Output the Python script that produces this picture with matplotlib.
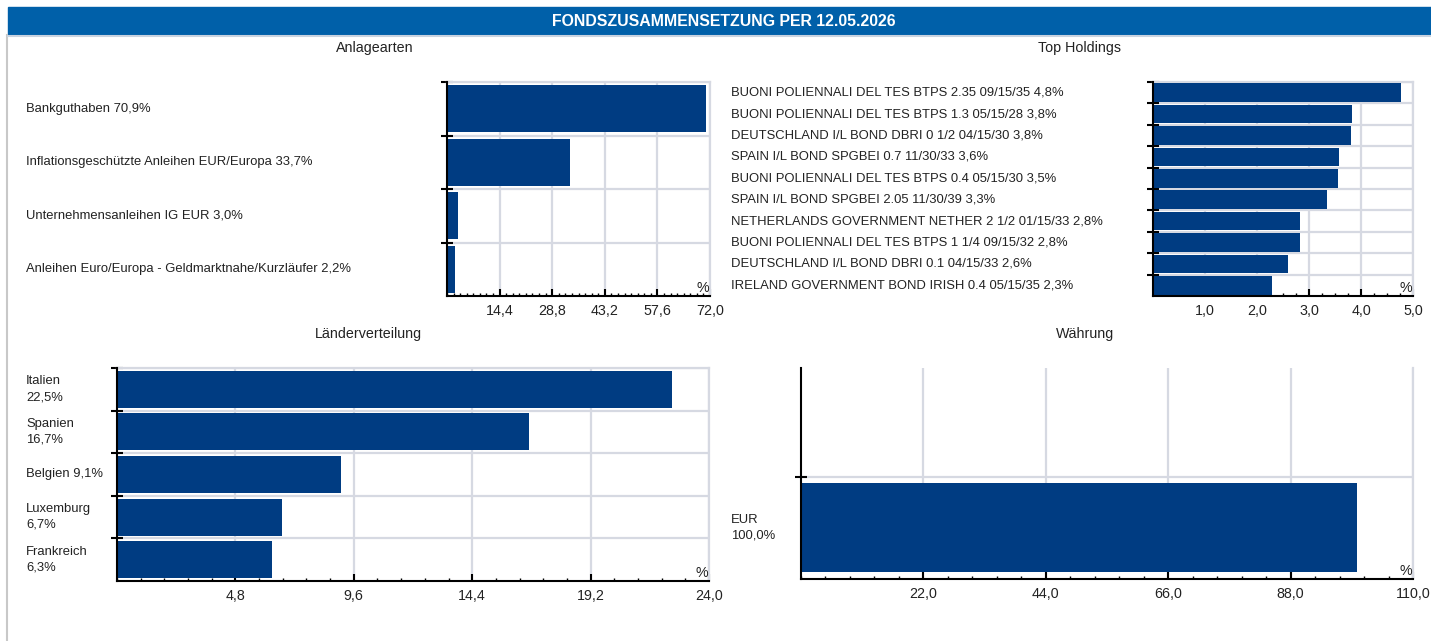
import matplotlib
matplotlib.use('Agg')
import numpy as np
import matplotlib.pyplot as plt
from matplotlib.ticker import FixedLocator, MultipleLocator, FuncFormatter
from matplotlib.transforms import blended_transform_factory
from matplotlib.patches import Rectangle
from matplotlib.lines import Line2D

plt.rcParams['font.family'] = ['Liberation Sans', 'DejaVu Sans']

HEADER = 'FONDSZUSAMMENSETZUNG PER 12.05.2026'

# Anlagearten
asset_labels = ['Bankguthaben 70,9%',
                'Inflationsgeschützte Anleihen EUR/Europa 33,7%',
                'Unternehmensanleihen IG EUR 3,0%',
                'Anleihen Euro/Europa - Geldmarktnahe/Kurzläufer 2,2%']
asset_values = [70.9, 33.7, 3.0, 2.2]
asset_ticks = [14.4, 28.8, 43.2, 57.6, 72.0]

# Top Holdings
hold_labels = ['BUONI POLIENNALI DEL TES BTPS 2.35 09/15/35 4,8%',
               'BUONI POLIENNALI DEL TES BTPS 1.3 05/15/28 3,8%',
               'DEUTSCHLAND I/L BOND DBRI 0 1/2 04/15/30 3,8%',
               'SPAIN I/L BOND SPGBEI 0.7 11/30/33 3,6%',
               'BUONI POLIENNALI DEL TES BTPS 0.4 05/15/30 3,5%',
               'SPAIN I/L BOND SPGBEI 2.05 11/30/39 3,3%',
               'NETHERLANDS GOVERNMENT NETHER 2 1/2 01/15/33 2,8%',
               'BUONI POLIENNALI DEL TES BTPS 1 1/4 09/15/32 2,8%',
               'DEUTSCHLAND I/L BOND DBRI 0.1 04/15/33 2,6%',
               'IRELAND GOVERNMENT BOND IRISH 0.4 05/15/35 2,3%']
hold_values = [4.76, 3.82, 3.81, 3.58, 3.56, 3.35, 2.83, 2.82, 2.59, 2.28]
hold_ticks = [1.0, 2.0, 3.0, 4.0, 5.0]

# Länderverteilung
country_labels = ['Italien\n22,5%', 'Spanien\n16,7%', 'Belgien 9,1%',
                  'Luxemburg\n6,7%', 'Frankreich\n6,3%']
country_values = [22.5, 16.7, 9.1, 6.7, 6.3]
country_ticks = [4.8, 9.6, 14.4, 19.2, 24.0]

# Währung
currency_labels = ['EUR\n100,0%']
currency_values = [100.0]
currency_ticks = [22.0, 44.0, 66.0, 88.0, 110.0]

W, H = 1431, 641
BAR = '#003c82'
GRID = '#d6d9e2'
TXT = '#222222'
FS = 9.4
FS_TICK = 10.3

fig = plt.figure(figsize=(W / 100, H / 100), dpi=100)
fig.patch.set_facecolor('white')


def px_rect(x0, y0, x1, y1):
    return [x0 / W, 1 - y1 / H, (x1 - x0) / W, (y1 - y0) / H]


# frame + header
fig.add_artist(Line2D([7 / W, 7 / W], [0, 1 - 35 / H], color='#c8c8c8', lw=1.5,
                      transform=fig.transFigure))
fig.add_artist(Rectangle((8 / W, 1 - 35 / H), 1, 28 / H, color='#0060a9',
                         transform=fig.transFigure))
fig.add_artist(Line2D([8 / W, 1], [1 - 36 / H, 1 - 36 / H], color='#c9d3e0', lw=1.5,
                      transform=fig.transFigure))
fig.text(724 / W, 1 - 21 / H, HEADER, color='white', fontsize=11.4, fontweight='bold',
         ha='center', va='center')


def fmt(v, pos):
    return ('%.1f' % v).replace('.', ',')


def panel(rect, title, title_xy, labels, values, ticks, minor, label_x,
          extra_top=0.0):
    ax = fig.add_axes(px_rect(*rect))
    n = len(values)
    pos = np.arange(n) + 0.5
    ax.barh(pos, values, height=0.87, color=BAR, zorder=3)
    ax.set_xlim(0, ticks[-1])
    ax.set_ylim(n, -extra_top)
    ax.xaxis.set_major_locator(FixedLocator(ticks))
    ax.xaxis.set_minor_locator(MultipleLocator(minor))
    ax.xaxis.set_major_formatter(FuncFormatter(fmt))
    ax.set_yticks(np.arange(n))
    ax.set_yticklabels([])
    ax.grid(True, which='major', color=GRID, lw=1.6, zorder=0)
    ax.tick_params(axis='x', which='major', direction='in', length=5, width=1.5,
                   color='black', labelsize=FS_TICK, labelcolor=TXT, pad=6)
    ax.tick_params(axis='x', which='minor', direction='in', length=2.2, width=1,
                   color='black')
    ax.tick_params(axis='y', which='major', direction='inout', length=9, width=1.5,
                   color='black')
    for s in ['left', 'bottom']:
        ax.spines[s].set_linewidth(1.5)
        ax.spines[s].set_color('black')
        ax.spines[s].set_zorder(4)
    ax.spines['right'].set_color(GRID)
    ax.spines['right'].set_linewidth(1.6)
    if extra_top > 0:
        ax.spines['top'].set_visible(False)
    else:
        ax.spines['top'].set_color(GRID)
        ax.spines['top'].set_linewidth(1.6)
    ax.text(0.998, 0.005, '%', transform=ax.transAxes, ha='right', va='bottom',
            fontsize=FS_TICK, color=TXT, zorder=5)
    tr = blended_transform_factory(fig.transFigure, ax.transData)
    for lab, p in zip(labels, pos):
        ax.text(label_x / W, p, lab, transform=tr, ha='left', va='center',
                fontsize=FS, color=TXT, linespacing=1.4)
    fig.text(title_xy[0] / W, 1 - title_xy[1] / H, title, ha='center', va='center',
             fontsize=FS_TICK, color=TXT)
    return ax


panel((447, 82, 710, 296), 'Anlagearten', (375, 48), asset_labels, asset_values,
      asset_ticks, 1.8, 26)
panel((1153, 82, 1413, 296), 'Top Holdings', (1080, 48), hold_labels, hold_values,
      hold_ticks, 0.25, 731)
panel((117, 368, 709, 581), 'Länderverteilung', (368, 334), country_labels,
      country_values, country_ticks, 0.96, 26)
panel((801, 368, 1413, 579), 'Währung', (1085, 334), currency_labels,
      currency_values, currency_ticks, 4.4, 731, extra_top=1.06)

fig.savefig('out.png', dpi=100, facecolor='white')
